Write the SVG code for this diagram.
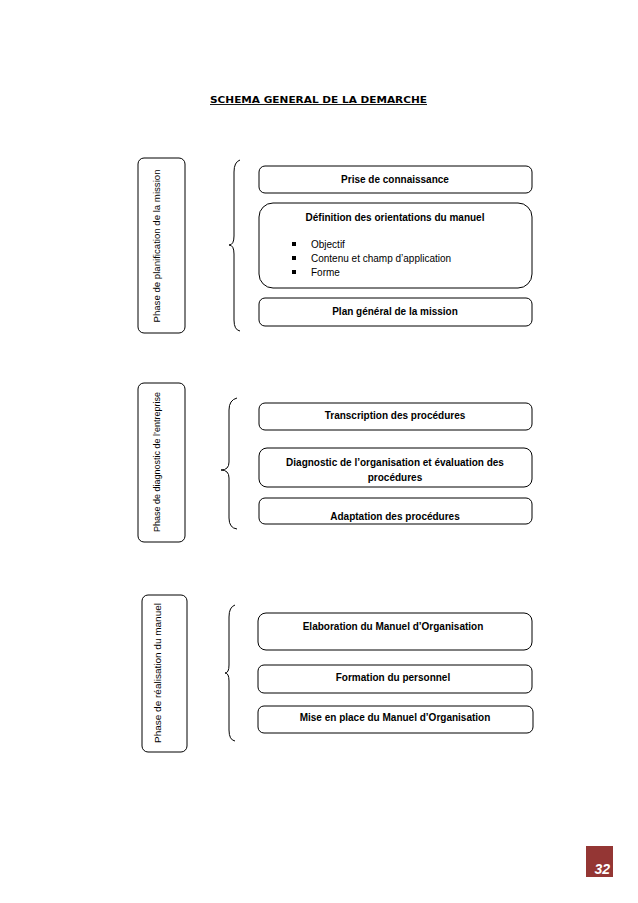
<svg xmlns="http://www.w3.org/2000/svg" width="638" height="903" viewBox="0 0 638 903">
<style>
.bg{fill:#ffffff}
.box{fill:#ffffff;stroke:#000;stroke-width:1}
.phase{fill:#ffffff;stroke:#000;stroke-width:1}
.t{font-family:"Liberation Sans",Arial,sans-serif;font-size:10px;font-weight:bold;fill:#000;text-anchor:middle}
.r{font-family:"Liberation Sans",Arial,sans-serif;font-size:10px;fill:#000}
.p{font-family:"Liberation Sans",Arial,sans-serif;font-size:9px;fill:#000;text-anchor:middle}
.brace{fill:none;stroke:#000;stroke-width:1}
.title{font-family:"DejaVu Sans",Verdana,sans-serif;font-size:9px;font-weight:bold;fill:#000;text-decoration:underline}
</style>
<rect class="bg" x="0" y="0" width="638" height="903"/>
<text class="title" x="210" y="103" textLength="217" lengthAdjust="spacingAndGlyphs">SCHEMA GENERAL  DE LA DEMARCHE</text>

<g id="phase1">
<rect class="phase" x="138" y="158" width="47" height="175" rx="6"/>
<text class="p" transform="translate(160,246) rotate(-90)" textLength="153" lengthAdjust="spacingAndGlyphs">Phase de planification de la mission</text>
</g>
<g id="phase2">
<rect class="phase" x="138" y="383" width="47" height="159" rx="6"/>
<text class="p" transform="translate(160,462) rotate(-90)" textLength="140" lengthAdjust="spacingAndGlyphs">Phase de diagnostic de l’entreprise</text>
</g>
<g id="phase3">
<rect class="phase" x="142" y="595" width="45" height="157" rx="6"/>
<text class="p" transform="translate(161,673) rotate(-90)" textLength="140" lengthAdjust="spacingAndGlyphs">Phase de réalisation du manuel</text>
</g>

<g id="connectors">
<path class="brace" d="M240,160 Q234,162 234,172 L234,236 Q234,245 229,245 Q234,245 234,254 L234,320 Q234,330 240,331"/>
<path class="brace" d="M237,398 Q229,400 229,410 L229,462 Q229,470 221,470 Q229,470 229,478 L229,518 Q229,528 237,529"/>
<path class="brace" d="M235,605 Q229,607 229,617 L229,665 Q229,673 225,673 Q229,673 229,681 L229,730 Q229,740 235,741"/>
</g>

<g id="n1">
<rect class="box" x="259" y="166" width="273" height="27" rx="6"/>
<text class="t" x="395" y="183">Prise de connaissance</text>
</g>
<g id="n2">
<rect class="box" x="259" y="203" width="273" height="85" rx="14"/>
<text class="t" x="395" y="221">Définition des orientations du manuel</text>
<rect x="292" y="242" width="4" height="4" fill="#000"/>
<rect x="292" y="256" width="4" height="4" fill="#000"/>
<rect x="292" y="270" width="4" height="4" fill="#000"/>
<text class="r" x="311" y="248">Objectif</text>
<text class="r" x="311" y="262">Contenu et champ d’application</text>
<text class="r" x="311" y="276">Forme</text>
</g>
<g id="n3">
<rect class="box" x="259" y="298" width="273" height="28" rx="6"/>
<text class="t" x="395" y="315">Plan général de la mission</text>
</g>

<g id="n4">
<rect class="box" x="259" y="403" width="273" height="27" rx="6"/>
<text class="t" x="395" y="419">Transcription des procédures</text>
</g>
<g id="n5">
<rect class="box" x="259" y="448" width="273" height="39" rx="8"/>
<text class="t" x="395" y="466">Diagnostic de l’organisation et évaluation des</text>
<text class="t" x="395" y="481">procédures</text>
</g>
<g id="n6">
<rect class="box" x="259" y="498" width="273" height="26" rx="6"/>
<text class="t" x="395" y="520">Adaptation des procédures</text>
</g>

<g id="n7">
<rect class="box" x="258" y="613" width="274" height="37" rx="8"/>
<text class="t" x="393" y="630">Elaboration du Manuel d’Organisation</text>
</g>
<g id="n8">
<rect class="box" x="258" y="665" width="274" height="28" rx="6"/>
<text class="t" x="393" y="681">Formation du personnel</text>
</g>
<g id="n9">
<rect class="box" x="258" y="706" width="275" height="27" rx="6"/>
<text class="t" x="395" y="721">Mise en place du Manuel d’Organisation</text>
</g>

<g id="pagenum">
<rect x="586" y="846" width="27" height="31" fill="#943634"/>
<text x="610" y="874" font-family="Liberation Sans,Arial,sans-serif" font-size="14" font-weight="bold" font-style="italic" fill="#fff" text-anchor="end">32</text>
<line x1="586" y1="877.5" x2="613" y2="877.5" stroke="#fff" stroke-width="1"/>
</g>
</svg>
